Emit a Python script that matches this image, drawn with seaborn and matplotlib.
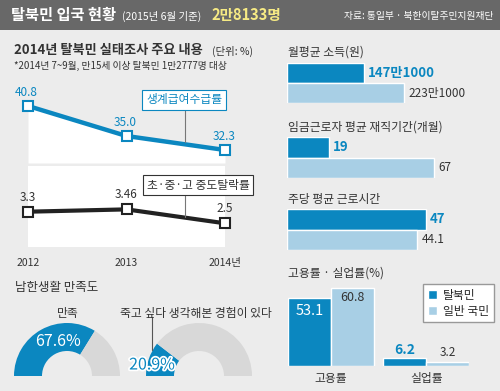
import numpy as np
import pandas as pd
import matplotlib
matplotlib.use("Agg")
import matplotlib.pyplot as plt
import matplotlib.patheffects as pe
from matplotlib.patches import Rectangle
import seaborn as sns

sns.set_style("white")
plt.rcParams['font.family'] = ['Noto Sans CJK KR', 'DejaVu Sans']

# data
years = [2012, 2013, 2014]
year_labels = ['2012', '2013', '2014년']
welfare = [40.8, 35.0, 32.3]
welfare_labels = ['40.8', '35.0', '32.3']
dropout = [3.3, 3.46, 2.5]
dropout_labels = ['3.3', '3.46', '2.5']

groups = ['탈북민', '일반 국민']
income = [147.1, 223.1]
income_labels = ['147만1000', '223만1000']
tenure = [19, 67]
tenure_labels = ['19', '67']
hours = [47, 44.1]
hours_labels = ['47', '44.1']

emp_cats = ['고용률', '실업률']
emp_defector = [53.1, 6.2]
emp_general = [60.8, 3.2]

satisfied = 67.6
suicidal = 20.9

BLUE = '#0b87c0'
LIGHT = '#a8cfe5'
GRAY_BG = '#ececec'
DONUT_GRAY = '#d8d8d8'
TXT = '#333333'

W, H = 500, 391
fig = plt.figure(figsize=(5, 3.91), dpi=100, facecolor=GRAY_BG)


def rect(x0, y0, x1, y1):
    return [x0 / W, 1 - y1 / H, (x1 - x0) / W, (y1 - y0) / H]


def ftxt(x, y, s, **kw):
    kw.setdefault('color', TXT)
    kw.setdefault('va', 'center')
    return fig.text(x / W, 1 - y / H, s, **kw)


# header
fig.patches.append(Rectangle((0, 1 - 30 / H), 1, 30 / H, transform=fig.transFigure,
                             facecolor='#686868', edgecolor='none'))
ftxt(11, 15, '탈북민 입국 현황', color='white', fontsize=11, fontweight='bold')
ftxt(122, 16, '(2015년 6월 기준)', color='white', fontsize=7.5)
ftxt(211, 15, '2만8133명', color='#f6ea84', fontsize=10.5, fontweight='bold')
ftxt(494, 16, '자료: 통일부 · 북한이탈주민지원재단', color='white', fontsize=7, ha='right')

# line chart titles
ftxt(14, 50, '2014년 탈북민 실태조사 주요 내용', fontsize=9.5, fontweight='bold')
ftxt(212, 51, '(단위: %)', fontsize=7.5)
ftxt(14, 66, '*2014년 7~9월, 만15세 이상 탈북민 1만2777명 대상', fontsize=7)

# top line: welfare
ax1 = fig.add_axes(rect(28, 85, 225, 163))
ax1.set_facecolor('none')
ylo1 = 32.3 - 13 / 5.18
ax1.set_ylim(ylo1, ylo1 + 78 / 5.18)
ax1.set_xlim(2012, 2014)
ax1.fill_between(years, welfare, ylo1, color='white', lw=0)
sns.lineplot(x=years, y=welfare, ax=ax1, color=BLUE, linewidth=3.2, marker='s',
             markersize=7, markerfacecolor='white', markeredgecolor=BLUE,
             markeredgewidth=1.5)
for yr, v, s in zip(years, welfare, welfare_labels):
    ax1.annotate(s, (yr, v), xytext=(-1, 10), textcoords='offset points',
                 ha='center', va='center', fontsize=8.5, color=BLUE)
ax1.axis('off')

# bottom line: dropout
ax2 = fig.add_axes(rect(28, 166, 225, 247))
ax2.set_facecolor('white')
ylo2 = 2.5 - 23.7 / 14.5
ax2.set_ylim(ylo2, ylo2 + 81 / 14.5)
ax2.set_xlim(2012, 2014)
sns.lineplot(x=years, y=dropout, ax=ax2, color='#222222', linewidth=3, marker='s',
             markersize=7, markerfacecolor='white', markeredgecolor='#222222',
             markeredgewidth=1.5)
for yr, v, s in zip(years, dropout, dropout_labels):
    ax2.annotate(s, (yr, v), xytext=(0, 10.5), textcoords='offset points',
                 ha='center', va='center', fontsize=8.5, color=TXT)
for a in (ax1, ax2):
    for l in a.lines:
        l.set_clip_on(False)
ax2.set_xticks(years)
ax2.set_xticklabels(year_labels)
ax2.set_yticks([])
ax2.tick_params(axis='x', length=4, width=0.8, color='#888888', direction='out',
                pad=4, labelsize=7.5, labelcolor=TXT)
for sp in ax2.spines.values():
    sp.set_visible(False)
ax2.set_xlabel('')
ax2.set_ylabel('')

# callouts
fig.add_artist(plt.Line2D([185 / W, 185 / W], [1 - 110 / H, 1 - 142 / H], color='#777777', lw=0.8))
fig.add_artist(plt.Line2D([185 / W, 185 / W], [1 - 195 / H, 1 - 217 / H], color='#777777', lw=0.8))
ftxt(184, 100, '생계급여수급률', fontsize=8.5, color=BLUE, ha='center',
     bbox=dict(boxstyle='square,pad=0.3', facecolor='white', edgecolor=BLUE, lw=0.8))
ftxt(198, 185, '초·중·고 중도탈락률', fontsize=8.5, color=TXT, ha='center',
     bbox=dict(boxstyle='square,pad=0.3', facecolor='white', edgecolor='#333333', lw=0.8))

# right bar groups
bar_specs = [
    ('월평균 소득(원)', 52, income, income_labels, (63, 103), 223.1 * 203 / 117),
    ('임금근로자 평균 재직기간(개월)', 127, tenure, tenure_labels, (137, 178), 67 * 203 / 147),
    ('주당 평균 근로시간', 200, hours, hours_labels, (209, 250), 47 * 203 / 139),
]
for title, ty, vals, labs, (y0, y1), xmax in bar_specs:
    ftxt(288, ty, title, fontsize=8.5)
    ax = fig.add_axes(rect(287, y0, 490, y1))
    df = pd.DataFrame({'group': groups, 'v': vals})
    sns.barplot(data=df, x='v', y='group', hue='group', palette=[BLUE, LIGHT],
                width=1.0, ax=ax, legend=False, saturation=1)
    ax.set_xlim(0, xmax)
    ax.set_ylim(1.5, -0.5)
    ax.axis('off')
    ax.annotate(labs[0], (vals[0], 0), xytext=(3, 0), textcoords='offset points',
                va='center', ha='left', fontsize=9.5, fontweight='bold', color=BLUE)
    ax.annotate(labs[1], (vals[1], 1), xytext=(3, 0), textcoords='offset points',
                va='center', ha='left', fontsize=8.5, color=TXT)

# employment / unemployment
ftxt(288, 273, '고용률 · 실업률(%)', fontsize=8.5)
axe = fig.add_axes(rect(288, 280, 469, 366))
edf = pd.DataFrame({
    'cat': emp_cats * 2,
    'grp': [groups[0]] * 2 + [groups[1]] * 2,
    'v': emp_defector + emp_general,
})
sns.barplot(data=edf, x='cat', y='v', hue='grp', palette=[BLUE, LIGHT], width=0.9,
            ax=axe, saturation=1)
handles, labels = axe.get_legend_handles_labels()
axe.get_legend().remove()
axe.set_xlim(-0.45, 1.45)
axe.set_ylim(0, 86 / 1.28)
axe.set_facecolor('none')
axe.set_yticks([])
axe.set_xlabel('')
axe.set_ylabel('')
for sp in axe.spines.values():
    sp.set_visible(False)
axe.tick_params(axis='x', length=0, pad=4, labelsize=8.5, labelcolor=TXT)
axe.annotate(f'{emp_defector[0]}', (-0.225, emp_defector[0]), xytext=(0, -9),
             textcoords='offset points', ha='center', va='center', fontsize=10.5, color='white')
axe.annotate(f'{emp_general[0]}', (0.225, emp_general[0]), xytext=(0, -7),
             textcoords='offset points', ha='center', va='center', fontsize=9, color=TXT)
axe.annotate(f'{emp_defector[1]}', (0.775, emp_defector[1]), xytext=(0, 6),
             textcoords='offset points', ha='center', va='center', fontsize=10,
             fontweight='bold', color=BLUE)
axe.annotate(f'{emp_general[1]}', (1.225, emp_general[1]), xytext=(0, 7),
             textcoords='offset points', ha='center', va='center', fontsize=8.5, color=TXT)
fig.legend(handles, labels, loc='upper left', bbox_to_anchor=(417 / W, 1 - 278 / H),
           frameon=True, fancybox=False, edgecolor='#999999', facecolor='white',
           fontsize=8.5, handlelength=0.8, handleheight=0.8, borderpad=0.4,
           labelspacing=0.25, handletextpad=0.5, framealpha=1)

# donuts
ftxt(15, 287, '남한생활 만족도', fontsize=9)
R = 53
for cx, val, title, tx in [(67, satisfied, '만족', 68), (199, suicidal, '죽고 싶다 생각해본 경험이 있다', 196)]:
    ax = fig.add_axes(rect(cx - R, 376 - R, cx + R, 376 + R))
    ax.pie([val, 100 - val, 100], colors=[BLUE, DONUT_GRAY, 'none'], startangle=180,
           counterclock=False, radius=1, wedgeprops=dict(width=28 / R, edgecolor='none'))
    ax.set_xlim(-1, 1)
    ax.set_ylim(-1, 1)
    ax.axis('off')
    ftxt(tx, 313, title, fontsize=8.5, ha='center')

ftxt(58, 341, f'{satisfied}%', fontsize=11.5, color='white', ha='center')
fig.add_artist(plt.Line2D([152 / W, 152 / W], [1 - 317 / H, 1 - 350 / H], color='#555555', lw=0.8))
t = ftxt(152, 365, f'{suicidal}%', fontsize=11.5, color=BLUE, ha='center')
t.set_path_effects([pe.withStroke(linewidth=2.5, foreground='white')])

fig.savefig('out.png', dpi=100, facecolor=GRAY_BG)
